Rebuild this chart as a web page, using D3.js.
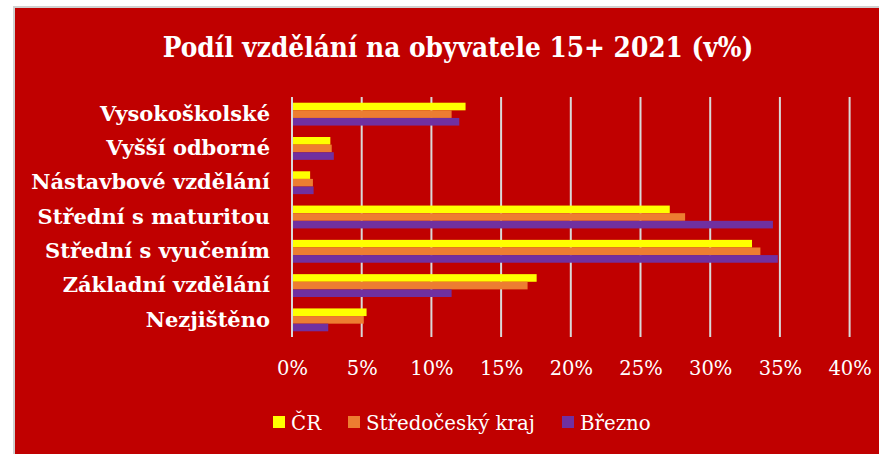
<!DOCTYPE html>
<html><head><meta charset="utf-8">
<script src="https://cdn.jsdelivr.net/npm/d3@7"></script>
<style>
html,body{margin:0;padding:0;background:#fff;}
svg{display:block;}
</style></head>
<body>
<svg id="chart" width="879" height="454"></svg>
<script>
const title = "Podíl vzdělání na obyvatele 15+ 2021 (v%)";
const categories = ["Vysokoškolské","Vyšší odborné","Nástavbové vzdělání","Střední s maturitou","Střední s vyučením","Základní vzdělání","Nezjištěno"];
const seriesNames = ["ČR","Středočeský kraj","Březno"];
const seriesColors = ["#FFFF00","#ED7D31","#7030A0"];
const valuesCR = [12.45, 2.75, 1.3, 27.1, 33.0, 17.55, 5.35];
const valuesStc = [11.45, 2.85, 1.5, 28.2, 33.6, 16.9, 5.15];
const valuesBrezno = [12.0, 3.0, 1.55, 34.5, 34.85, 11.45, 2.6];
const xTicks = [0,5,10,15,20,25,30,35,40];

const seriesValues = [valuesCR, valuesStc, valuesBrezno];
const svg = d3.select("#chart");

// outer frame
svg.append("rect").attr("x",13).attr("y",6).attr("width",879-13).attr("height",454-6).attr("fill","#d0d0d0");
svg.append("rect").attr("x",15).attr("y",8).attr("width",879-15).attr("height",454-8).attr("fill","#C00000");

const x = d3.scaleLinear().domain([0,40]).range([292,849.6]);
const y = d3.scaleBand().domain(categories).range([97,337]).paddingInner(1/3).paddingOuter(1/6);
const ys = d3.scaleBand().domain(d3.range(3)).range([0,y.bandwidth()]).padding(0);

// gridlines
svg.append("g").selectAll("line").data(xTicks).join("line")
  .attr("x1",d=>x(d)).attr("x2",d=>x(d)).attr("y1",97).attr("y2",337)
  .attr("stroke","#D9D9D9").attr("stroke-width",2);

// bars
const rows = [];
categories.forEach((c,i)=>{ seriesValues.forEach((vals,s)=>rows.push({c, s, v: vals[i]})); });
svg.append("g").selectAll("rect").data(rows).join("rect")
  .attr("x", x(0)+1)
  .attr("y", d=>y(d.c)+ys(d.s))
  .attr("width", d=>x(d.v)-x(0)-1)
  .attr("height", ys.bandwidth())
  .attr("fill", d=>seriesColors[d.s]);

// x axis tick labels
const xAxis = d3.axisBottom(x).tickValues(xTicks).tickFormat(d=>d+"%").tickSize(0).tickPadding(0);
const gx = svg.append("g").attr("transform","translate(0,361)").call(xAxis);
gx.select(".domain").remove();
gx.selectAll("text").attr("fill","#fff").attr("dy","0.71em")
  .style("font-family","'DejaVu Serif', serif").style("font-size","19.5px");

// y axis labels
const yAxis = d3.axisLeft(y).tickSize(0).tickPadding(0);
const gy = svg.append("g").attr("transform","translate(270,0)").call(yAxis);
gy.select(".domain").remove();
gy.selectAll("text").attr("fill","#fff")
  .style("font-family","'DejaVu Serif', serif").style("font-weight","bold").style("font-size","21px");

// title
svg.append("text").attr("x",458).attr("y",57).attr("text-anchor","middle")
  .attr("fill","#fff").style("font-family","'DejaVu Serif Condensed','DejaVu Serif',serif")
  .style("font-weight","bold").style("font-size","27.7px").text(title);

// legend
const legendX = [273, 348, 562];
const lg = svg.append("g");
seriesNames.forEach((n,i)=>{
  lg.append("rect").attr("x",legendX[i]).attr("y",416).attr("width",12).attr("height",12).attr("fill",seriesColors[i]);
  lg.append("text").attr("x",legendX[i]+18).attr("y",430).attr("fill","#fff")
    .style("font-family","'DejaVu Serif', serif").style("font-size","19.8px").text(n);
});
</script>
</body></html>
